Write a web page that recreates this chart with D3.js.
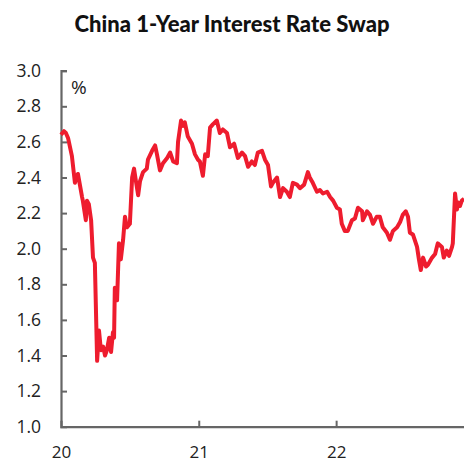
<!DOCTYPE html>
<html>
<head>
<meta charset="utf-8">
<script src="https://cdn.jsdelivr.net/npm/d3@7"></script>
<style>
  body { margin: 0; background: #fff; }
  svg { display: block; }
</style>
</head>
<body>
<div id="graph"></div>
<script>
// China 1y IRS (roughly weekly points)
var dates = [
  "2020-01-01","2020-01-09","2020-01-14","2020-01-20","2020-01-30","2020-02-07","2020-02-15","2020-02-26",
  "2020-02-28","2020-03-07","2020-03-10","2020-03-15","2020-03-21","2020-03-26","2020-03-31","2020-04-06",
  "2020-04-11","2020-04-16","2020-04-22","2020-04-27","2020-05-02","2020-05-08","2020-05-13","2020-05-18",
  "2020-05-21","2020-05-23","2020-05-29","2020-06-03","2020-06-08","2020-06-14","2020-06-19","2020-06-24",
  "2020-07-02","2020-07-08","2020-07-13","2020-07-18","2020-07-24","2020-07-29","2020-08-06","2020-08-16",
  "2020-08-19","2020-08-30","2020-09-07","2020-09-12","2020-09-20","2020-09-28","2020-10-09","2020-10-17",
  "2020-10-25","2020-11-04","2020-11-07","2020-11-15","2020-11-20","2020-11-25","2020-12-03","2020-12-14",
  "2020-12-22","2020-12-30","2021-01-04","2021-01-12","2021-01-18","2021-01-25","2021-01-31","2021-02-08",
  "2021-02-18","2021-02-26","2021-03-06","2021-03-17","2021-03-25","2021-04-05","2021-04-15","2021-04-26",
  "2021-05-04","2021-05-12","2021-05-22","2021-05-30","2021-06-07","2021-06-18","2021-06-26","2021-07-04",
  "2021-07-12","2021-07-17","2021-07-28","2021-08-05","2021-08-13","2021-08-23","2021-08-31","2021-09-08",
  "2021-09-19","2021-09-27","2021-10-08","2021-10-18","2021-10-23","2021-10-31","2021-11-11","2021-11-19",
  "2021-11-27","2021-12-08","2021-12-16","2021-12-24","2022-01-03","2022-01-11","2022-01-16","2022-01-24",
  "2022-02-01","2022-02-12","2022-02-20","2022-02-28","2022-03-11","2022-03-13","2022-03-24","2022-04-01",
  "2022-04-09","2022-04-19","2022-04-27","2022-05-05","2022-05-16","2022-05-24","2022-06-01","2022-06-12",
  "2022-06-20","2022-06-27","2022-07-05","2022-07-11","2022-07-16","2022-07-24","2022-08-04","2022-08-09",
  "2022-08-14","2022-08-20","2022-08-28","2022-09-02","2022-09-13","2022-09-21","2022-09-28","2022-10-09",
  "2022-10-14","2022-10-22","2022-10-28","2022-11-05","2022-11-07","2022-11-13","2022-11-18","2022-11-21",
  "2022-11-26","2022-12-01","2022-12-07"
];
var rates = [
  2.64, 2.66, 2.65, 2.62, 2.52, 2.37, 2.42, 2.29,
  2.27, 2.16, 2.27, 2.25, 2.16, 1.95, 1.92, 1.37,
  1.54, 1.43, 1.45, 1.40, 1.43, 1.50, 1.42, 1.53,
  1.50, 1.78, 1.71, 2.03, 1.94, 2.05, 2.18, 2.12,
  2.14, 2.40, 2.45, 2.38, 2.30, 2.38, 2.43, 2.45,
  2.50, 2.55, 2.58, 2.53, 2.44, 2.48, 2.51, 2.54,
  2.49, 2.48, 2.60, 2.72, 2.69, 2.71, 2.63, 2.59,
  2.53, 2.50, 2.49, 2.41, 2.53, 2.52, 2.68, 2.70,
  2.72, 2.65, 2.67, 2.65, 2.57, 2.59, 2.51, 2.54,
  2.52, 2.46, 2.49, 2.47, 2.54, 2.55, 2.50, 2.47,
  2.35, 2.37, 2.40, 2.29, 2.34, 2.32, 2.29, 2.37,
  2.36, 2.34, 2.36, 2.43, 2.40, 2.37, 2.32, 2.33,
  2.31, 2.32, 2.29, 2.27, 2.23, 2.22, 2.14, 2.10,
  2.10, 2.16, 2.17, 2.23, 2.21, 2.16, 2.21, 2.19,
  2.14, 2.18, 2.18, 2.12, 2.09, 2.05, 2.10, 2.12,
  2.15, 2.19, 2.21, 2.18, 2.09, 2.08, 2.01, 1.94,
  1.88, 1.95, 1.90, 1.91, 1.95, 1.97, 2.03, 2.01,
  1.95, 1.99, 1.96, 2.01, 2.03, 2.31, 2.22, 2.26,
  2.24, 2.27, 2.28
];
var yTicks = [1.0, 1.2, 1.4, 1.6, 1.8, 2.0, 2.2, 2.4, 2.6, 2.8, 3.0];
var xTicks = ["2020-01-01", "2021-01-01", "2022-01-01"];

var width = 464, height = 464;
var parse = d3.timeParse("%Y-%m-%d");
var data = dates.map(function(d, i) { return { date: parse(d), value: rates[i] }; });

var svg = d3.select("#graph").append("svg")
    .attr("width", width)
    .attr("height", height);

var x = d3.scaleTime()
    .domain([parse("2020-01-01"), parse("2023-01-01")])
    .range([61, 473.5]);
var y = d3.scaleLinear()
    .domain([1.0, 3.0])
    .range([426.7, 70.7]);

svg.append("text")
    .attr("x", 232).attr("y", 32)
    .attr("text-anchor", "middle")
    .style("font-family", "Lato, 'Open Sans', sans-serif")
    .style("font-weight", "900")
    .style("font-size", "22px")
    .style("fill", "#111")
    .text("China 1-Year Interest Rate Swap");

// y axis, ticks pointing inward
var yAxis = svg.append("g")
    .attr("transform", "translate(61,0)")
    .call(d3.axisLeft(y).tickValues(yTicks).tickSize(-6).tickPadding(20).tickFormat(d3.format(".1f")));

var xAxis = svg.append("g")
    .attr("transform", "translate(0,426.7)")
    .call(d3.axisBottom(x).tickValues(xTicks.map(parse)).tickSize(-6).tickPadding(19).tickFormat(d3.timeFormat("%y")));

[yAxis, xAxis].forEach(function(g) {
  g.select(".domain").attr("stroke", "#666").attr("stroke-width", 2.2);
  g.selectAll(".tick line").attr("stroke", "#666").attr("stroke-width", 2);
  g.selectAll(".tick text")
    .style("font-family", "'Open Sans', sans-serif")
    .style("font-size", "17.5px")
    .style("fill", "#222");
});
xAxis.selectAll(".tick text").style("font-size", "17px");
xAxis.selectAll(".tick").filter(function(d, i) { return i === 0; }).select("line").remove();
yAxis.selectAll(".tick").filter(function(d, i) { return i === 0; }).select("line").remove();

svg.append("text")
    .attr("x", 71).attr("y", 94)
    .style("font-family", "'Open Sans', sans-serif")
    .style("font-size", "19px")
    .style("fill", "#222")
    .text("%");

var line = d3.line()
    .x(function(d) { return x(d.date); })
    .y(function(d) { return y(d.value); });

svg.append("path")
    .datum(data)
    .attr("fill", "none")
    .attr("stroke", "#ee1c2e")
    .attr("stroke-width", 4)
    .attr("stroke-linejoin", "round")
    .attr("d", line);
</script>
</body>
</html>
